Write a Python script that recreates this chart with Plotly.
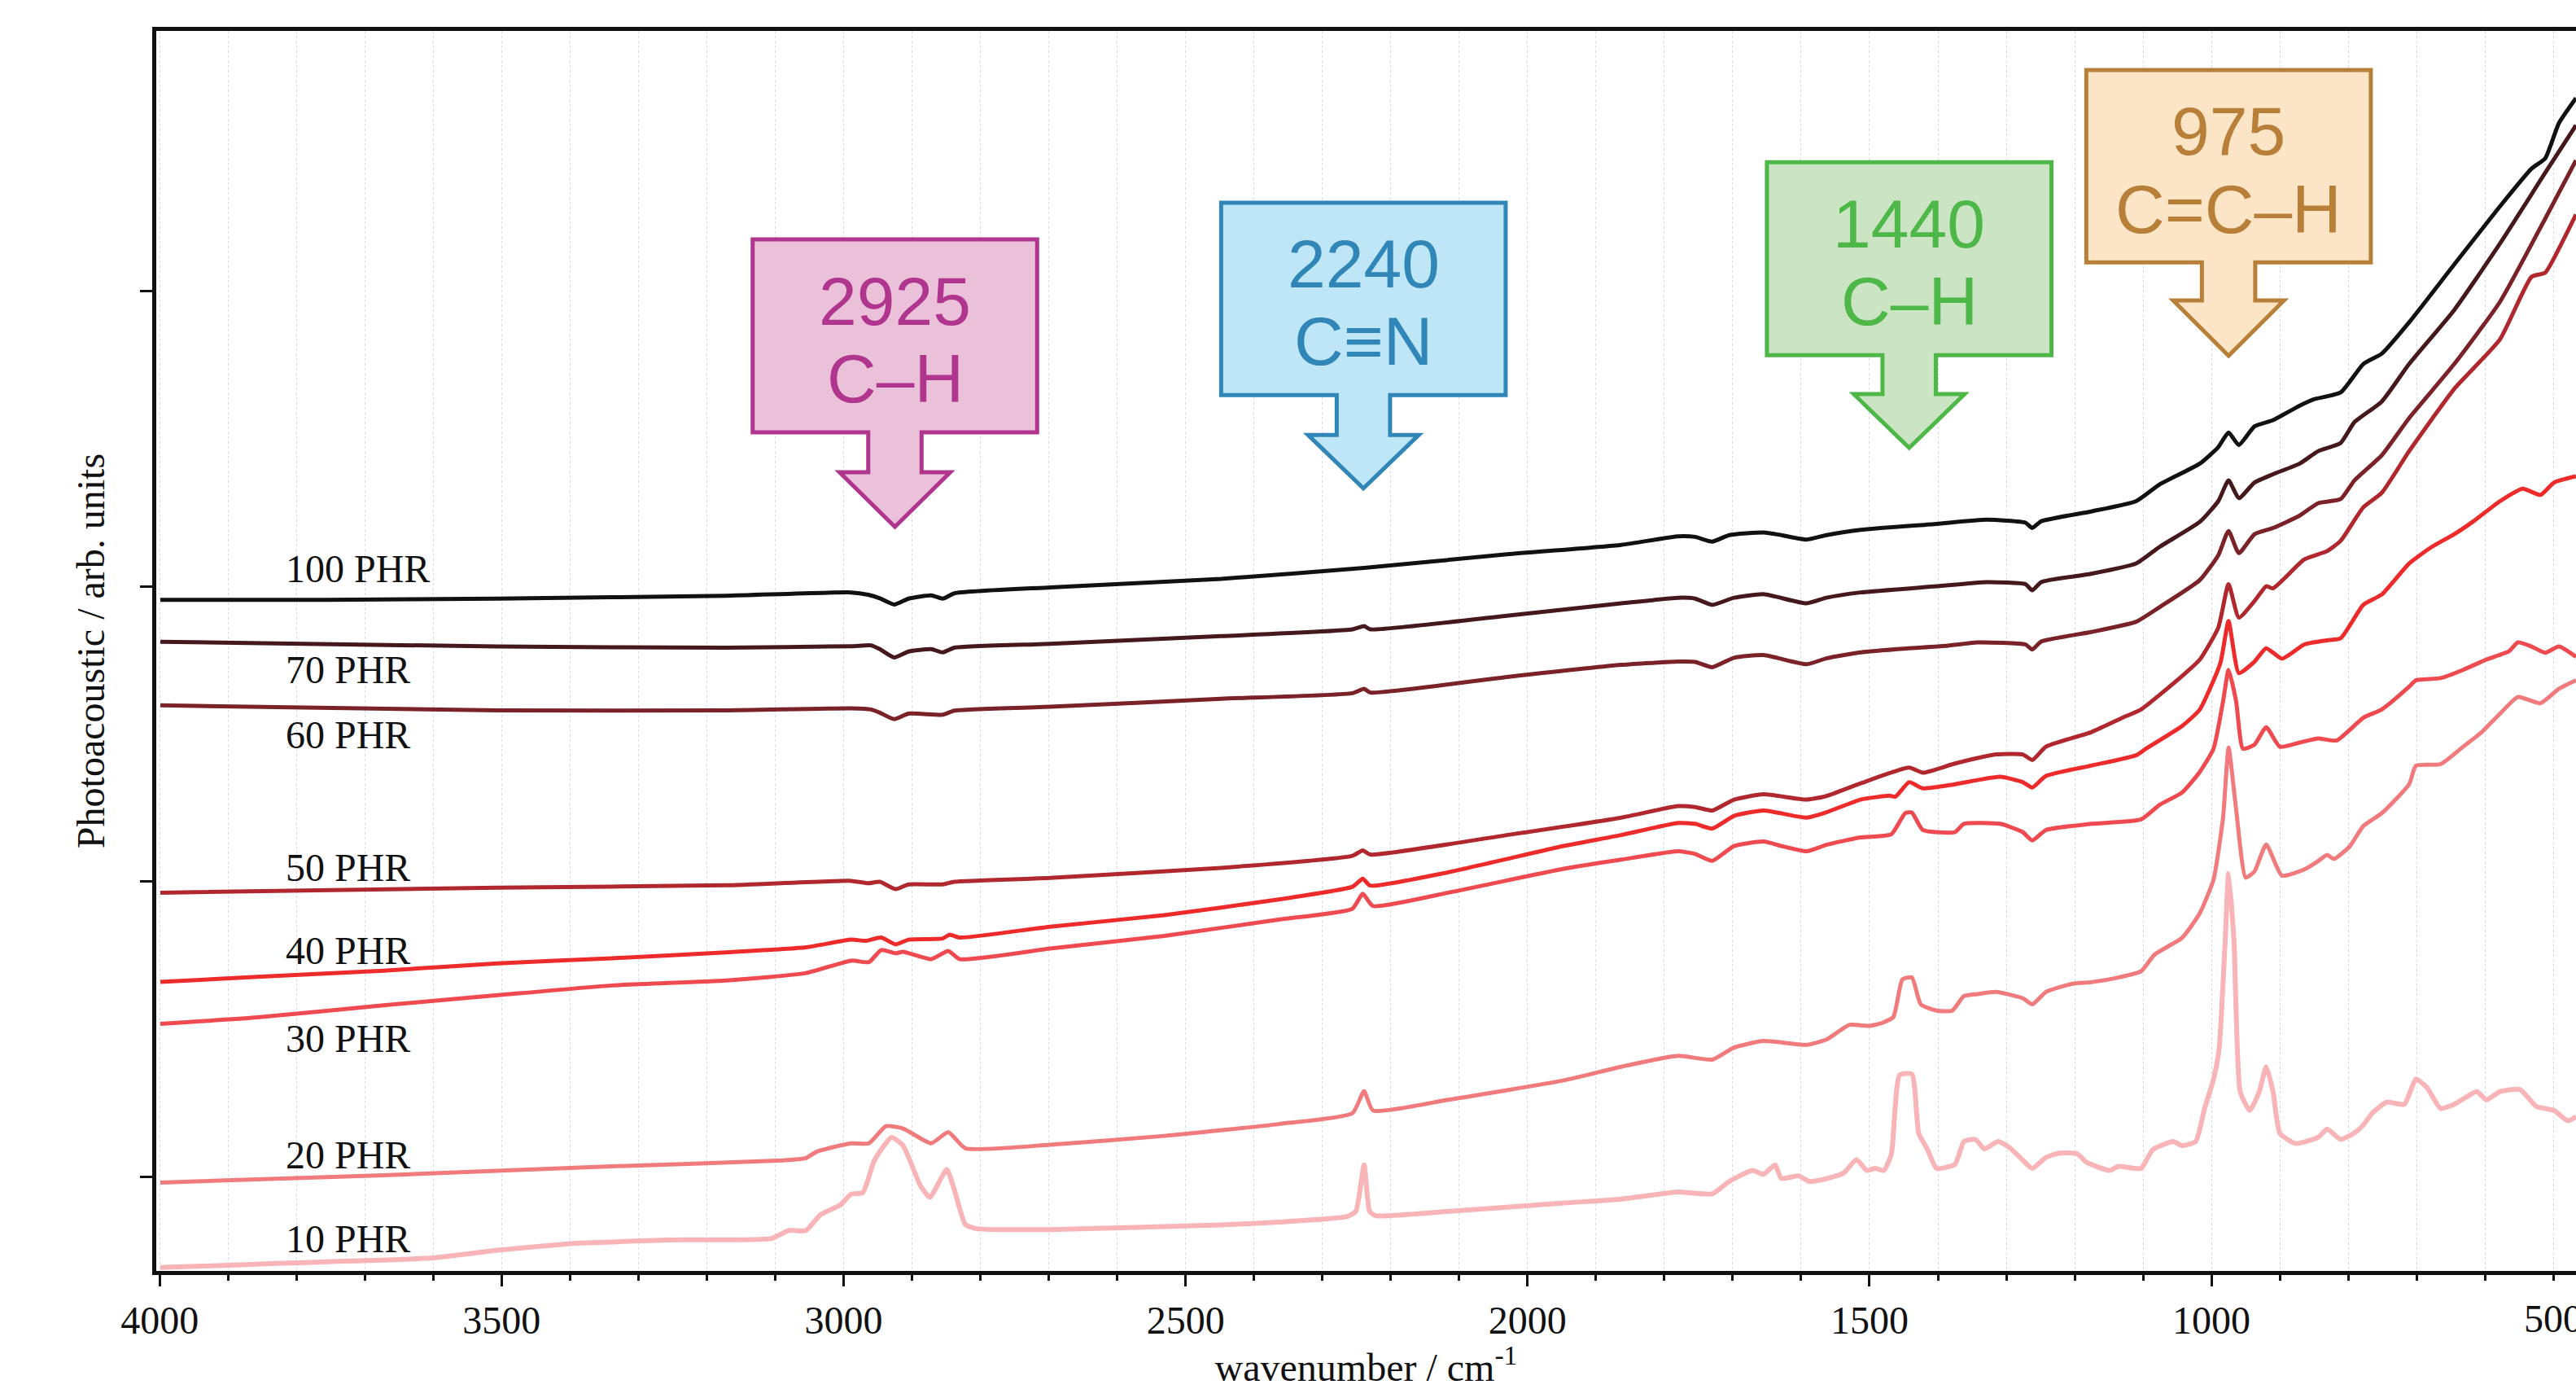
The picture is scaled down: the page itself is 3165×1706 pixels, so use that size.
import plotly.graph_objects as go

# ---------------- data ----------------
wn_100 = [3999, 3757, 3506, 3172, 2989, 2964, 2947, 2926, 2905, 2872, 2855, 2838, 2698,
          2448, 2239, 2030, 1863, 1780, 1755, 1730, 1705, 1655, 1629, 1592, 1563, 1513,
          1402, 1329, 1272, 1262, 1249, 1176, 1110, 1076, 1017, 990, 975, 960, 937, 910,
          871, 851, 811, 778, 751, 711, 645, 578, 532, 512, 492, 467]
y_100 = [2.954, 2.954, 2.958, 2.968, 2.979, 2.971, 2.959, 2.938, 2.958, 2.969, 2.958, 2.976, 2.996,
         3.025, 3.062, 3.108, 3.140, 3.169, 3.167, 3.151, 3.173, 3.182, 3.173, 3.158, 3.173, 3.191,
         3.211, 3.225, 3.215, 3.197, 3.220, 3.253, 3.288, 3.344, 3.415, 3.471, 3.520, 3.478, 3.541, 3.562,
         3.611, 3.632, 3.656, 3.752, 3.787, 3.893, 4.089, 4.286, 4.413, 4.448, 4.567, 4.652]

wn_70 = [3999, 3506, 3172, 2989, 2960, 2947, 2926, 2905, 2872, 2855, 2838, 2698,
         2448, 2256, 2239, 2230, 2030, 1863, 1780, 1755, 1730, 1698, 1655, 1592, 1563, 1513,
         1402, 1329, 1272, 1262, 1249, 1176, 1110, 1076, 1017, 990, 975, 960, 937, 910,
         871, 844, 811, 791, 751, 711, 645, 578, 512, 467]
y_70 = [2.812, 2.796, 2.792, 2.797, 2.800, 2.787, 2.759, 2.779, 2.787, 2.776, 2.792, 2.805,
        2.831, 2.854, 2.865, 2.854, 2.900, 2.942, 2.961, 2.958, 2.937, 2.961, 2.973, 2.942, 2.961, 2.979,
        3.000, 3.014, 3.007, 2.986, 3.014, 3.042, 3.077, 3.133, 3.218, 3.288, 3.358, 3.298, 3.351, 3.379,
        3.415, 3.457, 3.485, 3.555, 3.625, 3.752, 3.935, 4.160, 4.399, 4.560]

wn_60 = [3999, 3506, 3172, 2989, 2960, 2947, 2926, 2905, 2855, 2838, 2698,
         2448, 2256, 2239, 2230, 2030, 1863, 1780, 1755, 1730, 1698, 1655, 1592, 1563, 1513, 1446, 1389,
         1342, 1272, 1262, 1249, 1176, 1110, 1076, 1017, 990, 975, 960, 937, 910,
         871, 844, 811, 791, 751, 711, 645, 578, 512, 467]
y_60 = [2.597, 2.580, 2.580, 2.587, 2.583, 2.572, 2.550, 2.569, 2.565, 2.579, 2.592,
        2.619, 2.638, 2.653, 2.640, 2.693, 2.734, 2.745, 2.744, 2.726, 2.758, 2.767, 2.736, 2.756, 2.776, 2.789, 2.798,
        2.810, 2.803, 2.786, 2.813, 2.845, 2.880, 2.929, 3.021, 3.105, 3.187, 3.112, 3.176, 3.197,
        3.239, 3.281, 3.295, 3.358, 3.443, 3.569, 3.752, 3.963, 4.244, 4.441]

wn_50 = [3999, 3506, 3172, 2989, 2964, 2947, 2924, 2905, 2855, 2838, 2698,
         2448, 2256, 2241, 2230, 2030, 1863, 1780, 1755, 1730, 1698, 1655, 1592, 1563, 1513,
         1442, 1422, 1375, 1315, 1276, 1262, 1242, 1176, 1130, 1103, 1043, 1017,
         990, 975, 960, 937, 920, 910, 864, 831, 811, 778, 751, 711, 645, 578, 532, 512, 485, 467]
y_50 = [1.963, 1.980, 1.988, 2.003, 1.995, 2.000, 1.975, 1.991, 1.991, 2.000, 2.013,
        2.047, 2.088, 2.106, 2.092, 2.158, 2.217, 2.256, 2.253, 2.241, 2.278, 2.296, 2.278, 2.290, 2.333,
        2.386, 2.369, 2.400, 2.431, 2.431, 2.412, 2.457, 2.506, 2.555, 2.583, 2.696, 2.752,
        2.860, 3.007, 2.894, 2.950, 3.000, 2.993, 3.091, 3.119, 3.154, 3.267, 3.316, 3.457, 3.668, 3.836, 4.047, 4.061, 4.174, 4.258]

wn_40 = [3999, 3857, 3673, 3506, 3339, 3172, 3055, 2989, 2968, 2945, 2924, 2905, 2855, 2845, 2830, 2698,
         2531, 2364, 2256, 2241, 2230, 2114, 1947, 1863, 1780, 1755, 1730, 1698, 1655, 1592, 1563, 1513, 1471,
         1462, 1442, 1422, 1375, 1309, 1276, 1262, 1242, 1176, 1110, 1096, 1043, 1017, 987, 975, 960,
         937, 920, 897, 864, 831, 811, 778, 751, 711, 678, 645, 618, 578, 545, 519, 499, 467]
y_40 = [1.661, 1.678, 1.699, 1.724, 1.741, 1.761, 1.778, 1.804, 1.800, 1.811, 1.788, 1.804, 1.808, 1.821, 1.811, 1.848,
        1.887, 1.940, 1.983, 2.010, 1.987, 2.033, 2.121, 2.158, 2.199, 2.196, 2.180, 2.223, 2.241, 2.217, 2.235, 2.278, 2.291,
        2.288, 2.337, 2.316, 2.330, 2.355, 2.337, 2.319, 2.358, 2.393, 2.428, 2.450, 2.527, 2.583, 2.740, 2.882, 2.706,
        2.745, 2.790, 2.755, 2.803, 2.817, 2.824, 2.937, 2.972, 3.077, 3.133, 3.176, 3.218, 3.288, 3.330, 3.309, 3.351, 3.372]

wn_30 = [3999, 3857, 3673, 3506, 3339, 3172, 3055, 2989, 2963, 2945, 2924, 2913, 2872, 2847, 2830, 2698,
         2531, 2364, 2256, 2241, 2226, 2114, 1947, 1863, 1780, 1755, 1730, 1698, 1655, 1629, 1592, 1563, 1513,
         1468, 1448, 1438, 1422, 1375, 1362, 1309, 1276, 1262, 1242, 1176, 1103, 1076, 1043, 1017, 997, 983,
         975, 964, 954, 937, 920, 900, 871, 844, 817, 778, 751, 711, 701, 665, 632, 598, 565, 552, 532, 512, 492, 467]
y_30 = [1.519, 1.541, 1.582, 1.616, 1.649, 1.666, 1.691, 1.733, 1.728, 1.769, 1.758, 1.763, 1.738, 1.766, 1.738, 1.774,
        1.817, 1.872, 1.909, 1.959, 1.918, 1.964, 2.044, 2.075, 2.103, 2.094, 2.071, 2.121, 2.136, 2.121, 2.103, 2.125, 2.150,
        2.161, 2.232, 2.234, 2.175, 2.168, 2.196, 2.196, 2.168, 2.140, 2.175, 2.196, 2.211, 2.260, 2.302, 2.372, 2.450, 2.611,
        2.717, 2.611, 2.450, 2.464, 2.523, 2.457, 2.471, 2.485, 2.478, 2.555, 2.583, 2.660, 2.682, 2.689, 2.717, 2.752, 2.780, 2.810, 2.796, 2.775, 2.796, 2.761]

wn_20 = [3999, 3673, 3339, 3089, 3055, 3039, 2989, 2963, 2938, 2913, 2872, 2847, 2822, 2698,
         2531, 2364, 2256, 2239, 2226, 2114, 1947, 1863, 1780, 1730, 1698, 1655, 1592, 1563, 1529, 1500,
         1482, 1465, 1452, 1438, 1425, 1402, 1379, 1362, 1342, 1315, 1276, 1262, 1242, 1203, 1176, 1136, 1103,
         1083, 1043, 1017, 997, 983, 975, 964, 950, 937, 920, 897, 864, 844, 831, 821, 798, 778, 751, 711,
         701, 665, 632, 605, 578, 552, 519, 492, 467]
y_20 = [0.982, 1.007, 1.037, 1.057, 1.065, 1.087, 1.115, 1.115, 1.173, 1.165, 1.115, 1.153, 1.098, 1.110,
        1.140, 1.180, 1.217, 1.291, 1.226, 1.263, 1.328, 1.374, 1.411, 1.398, 1.439, 1.461, 1.448, 1.466, 1.516, 1.512,
        1.522, 1.543, 1.669, 1.676, 1.585, 1.564, 1.564, 1.613, 1.620, 1.627, 1.606, 1.585, 1.627, 1.655, 1.660, 1.676, 1.697,
        1.754, 1.810, 1.894, 2.007, 2.218, 2.454, 2.246, 2.014, 2.035, 2.126, 2.021, 2.042, 2.070, 2.091, 2.077, 2.119, 2.189, 2.232, 2.330,
        2.393, 2.398, 2.457, 2.506, 2.569, 2.625, 2.604, 2.653, 2.682]

wn_10 = [3999, 3900, 3860, 3820, 3757, 3600, 3506, 3400, 3373, 3258, 3105, 3080, 3055, 3034, 3005, 2989, 2972,
         2955, 2930, 2913, 2888, 2874, 2859, 2849, 2838, 2822, 2805, 2698,
         2448, 2364, 2264, 2251, 2239, 2231, 2222, 2114, 1947, 1863, 1780, 1730, 1705, 1671, 1655, 1638, 1629,
         1604, 1588, 1563, 1538, 1519, 1504, 1492, 1479,
         1468, 1456, 1438, 1428, 1415, 1402, 1375, 1362, 1345, 1332, 1312, 1295, 1279, 1262, 1242, 1222, 1196,
         1183, 1149, 1136, 1103, 1086, 1056, 1043, 1023, 1010, 997, 989, 980, 975, 967, 958, 944, 930, 920,
         910, 900, 877, 844, 831, 811, 791, 778, 764, 744, 718, 701, 685, 665, 645, 612, 598, 578, 549, 525,
         499, 479, 467]
y_10 = [0.695, 0.702, 0.706, 0.709, 0.714, 0.727, 0.753, 0.775, 0.778, 0.788, 0.793, 0.820, 0.820, 0.873, 0.906, 0.943, 0.948,
        1.057, 1.135, 1.107, 0.973, 0.932, 0.990, 1.027, 0.957, 0.840, 0.826, 0.823,
        0.839, 0.848, 0.867, 0.885, 1.042, 0.885, 0.870, 0.885, 0.913, 0.926, 0.950, 0.944, 0.986, 1.023, 1.010, 1.042, 0.996,
        1.005, 0.986, 0.995, 1.014, 1.060, 1.023, 1.030, 1.023,
        1.079, 1.346, 1.349, 1.149, 1.093, 1.030, 1.044, 1.121, 1.128, 1.096, 1.121, 1.100, 1.065, 1.030, 1.067, 1.082, 1.079,
        1.051, 1.023, 1.037, 1.030, 1.093, 1.121, 1.107, 1.121, 1.233, 1.332, 1.430, 1.796, 2.028, 1.796, 1.290, 1.226, 1.290, 1.374,
        1.290, 1.149, 1.114, 1.135, 1.163, 1.128, 1.150, 1.177, 1.219, 1.254, 1.247, 1.332, 1.304, 1.233, 1.247, 1.290, 1.262, 1.290, 1.297, 1.240,
        1.226, 1.191, 1.205]

series_names = ["10 PHR", "20 PHR", "30 PHR", "40 PHR", "50 PHR", "60 PHR", "70 PHR", "100 PHR"]
series_x = [wn_10, wn_20, wn_30, wn_40, wn_50, wn_60, wn_70, wn_100]
series_y = [y_10, y_20, y_30, y_40, y_50, y_60, y_70, y_100]
series_colors = ["#F8B4B6", "#F07A7C", "#EE4A4F", "#EE2B2B", "#B0282E", "#7A2228", "#45181C", "#111111"]
label_y = [0.792, 1.075, 1.469, 1.767, 2.049, 2.496, 2.718, 3.060]
label_wn = 3818

x_tick_vals = [4000, 3500, 3000, 2500, 2000, 1500, 1000, 500]
x_tick_text = ["4000", "3500", "3000", "2500", "2000", "1500", "1000", "500"]

# peak annotations: wavenumber, two text lines, colours
peak_wn = [2925, 2240, 1442, 975]
peak_line1 = ["2925", "2240", "1440", "975"]
peak_line2 = ["C\u2013H", "C\u2261N", "C\u2013H", "C=C\u2013H"]
peak_stroke = ["#B0358E", "#2F86B7", "#4DB848", "#B87F38"]
peak_fill = ["#EBC1D9", "#BFE6F6", "#CBE4C3", "#FCE5C6"]
# vertical geometry of each callout (y units): box top, box bottom, stem bottom, tip, text1, text2
peak_geom = [
    (4.174, 3.521, 3.386, 3.201, 3.964, 3.702),
    (4.298, 3.647, 3.512, 3.331, 4.091, 3.829),
    (4.435, 3.782, 3.650, 3.468, 4.226, 3.964),
    (4.747, 4.096, 3.967, 3.780, 4.540, 4.275),
]
HALF_BOX, HALF_STEM, HALF_HEAD = 208, 39, 81

# ---------------- figure ----------------
fig = go.Figure()
for name, xs, ys, col in zip(series_names, series_x, series_y, series_colors):
    fig.add_trace(go.Scatter(x=xs, y=ys, mode="lines", name=name,
                             line=dict(color=col, width=6 if name == "10 PHR" else 5,
                                       shape="spline", smoothing=0.5)))

serif = "Liberation Serif, Times New Roman, serif"
sans = "Liberation Sans, Arial, sans-serif"

for name, ly in zip(series_names, label_y):
    fig.add_annotation(x=label_wn, y=ly, text=name, showarrow=False, xanchor="left",
                       yanchor="middle", font=dict(family=serif, size=48, color="#111111"))

# the right-most tick label sits partly beyond the page edge, as in the original
fig.add_annotation(x=x_tick_vals[-1], y=0, xref="x", yref="paper", text=x_tick_text[-1],
                   showarrow=False, xanchor="center", yanchor="top", yshift=-30,
                   font=dict(family=serif, size=48, color="#111111"))

shapes = []
for xc, g, sc, fc, t1, t2 in zip(peak_wn, peak_geom, peak_stroke, peak_fill, peak_line1, peak_line2):
    yt, yb, ys_, ytip, yt1, yt2 = g
    pts = [(xc - HALF_BOX, yt), (xc + HALF_BOX, yt), (xc + HALF_BOX, yb), (xc + HALF_STEM, yb),
           (xc + HALF_STEM, ys_), (xc + HALF_HEAD, ys_), (xc, ytip), (xc - HALF_HEAD, ys_),
           (xc - HALF_STEM, ys_), (xc - HALF_STEM, yb), (xc - HALF_BOX, yb)]
    path = "M " + " L ".join(f"{px},{py}" for px, py in pts) + " Z"
    shapes.append(dict(type="path", path=path, xref="x", yref="y", fillcolor=fc,
                       line=dict(color=sc, width=5), layer="above"))
    fig.add_annotation(x=xc, y=yt1, text=t1, showarrow=False, xanchor="center", yanchor="middle",
                       font=dict(family=sans, size=84, color=sc))
    fig.add_annotation(x=xc, y=yt2, text=t2, showarrow=False, xanchor="center", yanchor="middle",
                       font=dict(family=sans, size=84, color=sc))

fig.update_layout(
    width=3165, height=1706,
    margin=dict(l=192, r=0, t=38, b=145),
    paper_bgcolor="white", plot_bgcolor="white",
    showlegend=False,
    shapes=shapes,
    xaxis=dict(
        range=[4005, 467], autorange=False,
        tickvals=x_tick_vals[:-1], ticktext=x_tick_text[:-1],
        ticks="outside", ticklen=14, tickwidth=3, tickcolor="#111111",
        showline=True, linewidth=5, linecolor="#111111", mirror=True,
        showgrid=True, gridcolor="#D8DAE6", gridwidth=1, griddash="dot",
        minor=dict(dtick=100, tick0=0, ticks="outside", ticklen=7, tickwidth=3, tickcolor="#111111",
                   showgrid=True, gridcolor="#D8DAE6", gridwidth=1, griddash="dot"),
        tickfont=dict(family=serif, size=48, color="#111111"),
        title=dict(text="wavenumber / cm<sup>-1</sup>", font=dict(family=serif, size=48, color="#111111"),
                   standoff=10),
        zeroline=False, automargin=False,
    ),
    yaxis=dict(
        range=[0.683, 4.879], autorange=False,
        tickvals=[1, 2, 3, 4], showticklabels=False,
        ticks="outside", ticklen=15, tickwidth=3, tickcolor="#111111",
        showline=True, linewidth=5, linecolor="#111111", mirror=False,
        showgrid=False, zeroline=False,
        title=dict(text="Photoacoustic / arb. units", font=dict(family=serif, size=48, color="#111111"),
                   standoff=30),
        automargin=False,
    ),
)

fig.write_html("out.html")
